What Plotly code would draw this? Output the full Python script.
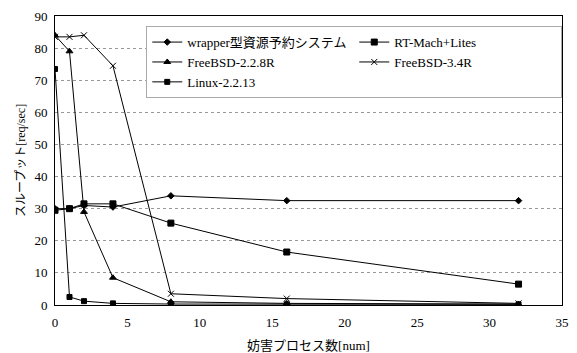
import plotly.graph_objects as go

x_procs = [0, 1, 2, 4, 8, 16, 32]
series_names = ["wrapper型資源予約システム", "RT-Mach+Lites", "FreeBSD-2.2.8R", "FreeBSD-3.4R", "Linux-2.2.13"]
wrapper_vals = [30.0, 30.0, 31.0, 30.5, 34.0, 32.5, 32.5]
rtmach_vals = [29.5, 30.0, 31.5, 31.5, 25.5, 16.5, 6.5]
fbsd228_vals = [84.0, 79.0, 29.0, 8.5, 1.0, 0.5, 0.3]
fbsd34_vals = [83.5, 83.5, 84.0, 74.5, 3.5, 2.0, 0.5]
linux_vals = [73.5, 2.5, 1.2, 0.5, 0.3, 0.2, 0.2]
y_ticks = [0, 10, 20, 30, 40, 50, 60, 70, 80, 90]
x_ticks = [0, 5, 10, 15, 20, 25, 30, 35]

all_vals = [wrapper_vals, rtmach_vals, fbsd228_vals, fbsd34_vals, linux_vals]
symbols = ["diamond", "square", "triangle-up", "x-thin", "square"]
sizes = [5, 6, 6, 6, 5]

fig = go.Figure()
for name, vals, sym, sz in zip(series_names, all_vals, symbols, sizes):
    fig.add_trace(go.Scatter(
        x=x_procs, y=vals, name=name, mode="lines+markers",
        line=dict(color="black", width=1),
        marker=dict(symbol=sym, size=sz, color="black",
                    line=dict(color="black", width=1)),
    ))

serif = "Liberation Serif, Noto Sans CJK JP, serif"
fig.update_layout(
    width=569, height=345,
    margin=dict(l=47, r=15, t=8, b=48),
    paper_bgcolor="white", plot_bgcolor="white",
    font=dict(family=serif, size=13, color="black"),
    showlegend=True,
    legend=dict(
        orientation="h", x=0.18, y=0.965, xanchor="left", yanchor="top",
        entrywidth=162, itemwidth=30,
        bordercolor="#aaa", borderwidth=1, bgcolor="white",
        font=dict(family=serif, size=13, color="black"),
        tracegroupgap=0,
    ),
    xaxis=dict(
        range=[0, 35], tickvals=x_ticks, ticktext=[str(v) for v in x_ticks],
        showgrid=False, zeroline=False, automargin=False,
        showline=True, linecolor="black", linewidth=1, mirror=True,
        ticks="", tickfont=dict(size=13), ticklabelstandoff=5,
        ticklabeloverflow="allow",
        title=dict(text="妨害プロセス数[num]", font=dict(size=13), standoff=12),
    ),
    yaxis=dict(
        range=[0, 90], tickvals=y_ticks, ticktext=[str(v) for v in y_ticks],
        showgrid=True, gridcolor="#999", griddash="dot", gridwidth=1,
        zeroline=False, automargin=False,
        showline=True, linecolor="black", linewidth=1, mirror=True,
        ticks="", tickfont=dict(size=13), ticklabelstandoff=4,
        ticklabeloverflow="allow",
        title=dict(text="スループット[req/sec]", font=dict(size=12), standoff=6),
    ),
)

fig.write_html("out.html")
